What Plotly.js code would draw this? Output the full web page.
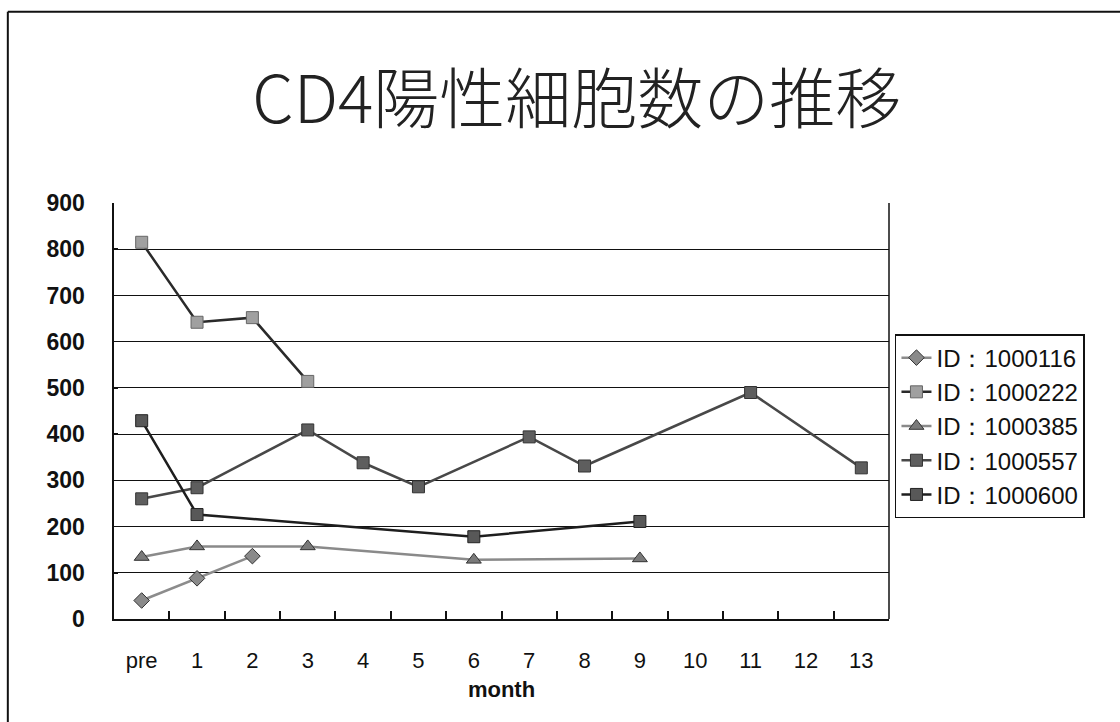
<!DOCTYPE html>
<html>
<head>
<meta charset="utf-8">
<script src="https://cdn.plot.ly/plotly-3.0.1.min.js"></script>
<style>
  html, body { margin: 0; padding: 0; background: #fff; }
  #chart { width: 1120px; height: 722px; }
</style>
</head>
<body>
<div id="chart"></div>
<script>
// Category labels (x axis)
const months = ["pre","1","2","3","4","5","6","7","8","9","10","11","12","13"];

// Series names
const seriesNames = ["ID：1000116","ID：1000222","ID：1000385","ID：1000557","ID：1000600"];

// Series data (month category -> CD4 count)
const x1000116 = ["pre","1","2"];
const y1000116 = [40, 88, 136];

const x1000222 = ["pre","1","2","3"];
const y1000222 = [815, 642, 652, 514];

const x1000385 = ["pre","1","3","6","9"];
const y1000385 = [134, 157, 157, 128, 131];

const x1000557 = ["pre","1","3","4","5","7","8","11","13"];
const y1000557 = [260, 284, 409, 338, 286, 394, 331, 490, 327];

const x1000600 = ["pre","1","6","9"];
const y1000600 = [429, 226, 178, 211];

const yTicks = [0,100,200,300,400,500,600,700,800,900];

const traces = [
  {x: x1000116, y: y1000116, name: seriesNames[0], mode: "lines+markers",
   line: {color: "#8c8c8c", width: 2.5},
   marker: {symbol: "diamond", size: 12, color: "#8a8a8a", line: {color: "#333", width: 1}}},
  {x: x1000222, y: y1000222, name: seriesNames[1], mode: "lines+markers",
   line: {color: "#2a2a2a", width: 2.5},
   marker: {symbol: "square", size: 12, color: "#a0a0a0", line: {color: "#666", width: 1}}},
  {x: x1000385, y: y1000385, name: seriesNames[2], mode: "lines+markers",
   line: {color: "#8a8a8a", width: 2.5},
   marker: {symbol: "triangle-up", size: 13, color: "#7a7a7a", line: {color: "#333", width: 1}}},
  {x: x1000557, y: y1000557, name: seriesNames[3], mode: "lines+markers",
   line: {color: "#484848", width: 2.5},
   marker: {symbol: "square", size: 12, color: "#5e5e5e", line: {color: "#333", width: 1}}},
  {x: x1000600, y: y1000600, name: seriesNames[4], mode: "lines+markers",
   line: {color: "#1e1e1e", width: 2.5},
   marker: {symbol: "square", size: 12, color: "#585858", line: {color: "#222", width: 1}}}
];

const labelFont = "Liberation Sans, Arial, sans-serif";

const layout = {
  width: 1120, height: 722,
  paper_bgcolor: "#ffffff", plot_bgcolor: "#ffffff",
  margin: {l: 114, r: 231, t: 203, b: 103},
  showlegend: true,
  title: {
    text: "CD4陽性細胞数の推移",
    font: {family: "Noto Sans CJK JP, sans-serif", size: 66, weight: 300, color: "#222"},
    x: 0.515, xanchor: "center", y: 0.862, yanchor: "middle"
  },
  xaxis: {
    type: "category",
    categoryorder: "array", categoryarray: months,
    tickvals: months, ticktext: months,
    range: [-0.5, 13.5],
    tickson: "boundaries",
    ticks: "inside", ticklen: 8, tickwidth: 2, tickcolor: "#111",
    showgrid: false, zeroline: false,
    showline: true, linecolor: "#111", linewidth: 2,
    ticklabelstandoff: 21,
    tickfont: {family: labelFont, size: 22, color: "#111"},
    title: {text: "<b>month</b>", standoff: 9,
            font: {family: labelFont, size: 22, color: "#111"}},
    fixedrange: true
  },
  yaxis: {
    range: [0, 900],
    tickvals: yTicks,
    ticks: "inside", ticklen: 4, tickwidth: 1.5, tickcolor: "#111",
    showgrid: true, gridcolor: "#111", gridwidth: 1,
    zeroline: false,
    showline: true, linecolor: "#111", linewidth: 2.5,
    ticklabelstandoff: 22,
    tickfont: {family: labelFont, size: 23, weight: "bold", color: "#111"},
    fixedrange: true
  },
  legend: {
    x: 1.0077, xanchor: "left", y: 0.685, yanchor: "top",
    bgcolor: "#ffffff", bordercolor: "#111", borderwidth: 1.5,
    font: {family: labelFont, size: 24, color: "#111"},
    tracegroupgap: 0, itemwidth: 30
  },
  shapes: [
    {type: "line", xref: "paper", yref: "paper", x0: 1, x1: 1, y0: 0, y1: 1,
     line: {color: "#111", width: 1.5}},
    {type: "line", xref: "paper", yref: "paper", x0: -0.137, x1: 1.31, y0: 1.46, y1: 1.46,
     line: {color: "#111", width: 2}},
    {type: "line", xref: "paper", yref: "paper", x0: -0.137, x1: -0.137, y0: 1.46, y1: -0.26,
     line: {color: "#111", width: 2}}
  ]
};

Plotly.newPlot("chart", traces, layout, {displayModeBar: false, staticPlot: true});
</script>
</body>
</html>
